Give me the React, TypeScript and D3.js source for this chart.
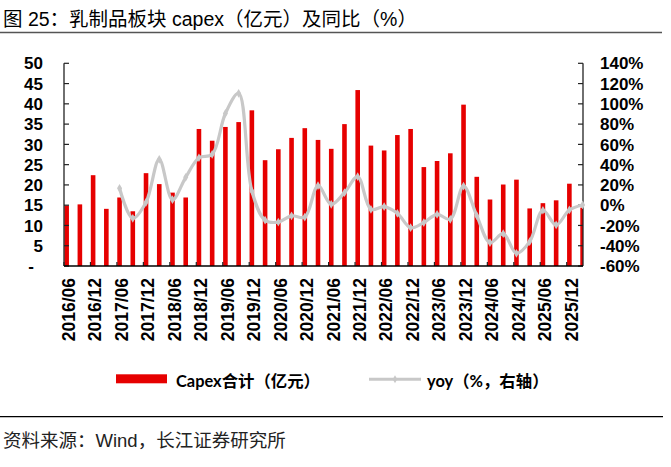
import React from "react";
import * as d3 from "d3";

const categories: string[] = [
  "2016/06","2016/09","2016/12","2017/03","2017/06","2017/09","2017/12","2018/03",
  "2018/06","2018/09","2018/12","2019/03","2019/06","2019/09","2019/12","2020/03",
  "2020/06","2020/09","2020/12","2021/03","2021/06","2021/09","2021/12","2022/03",
  "2022/06","2022/09","2022/12","2023/03","2023/06","2023/09","2023/12","2024/03",
  "2024/06","2024/09","2024/12","2025/03","2025/06","2025/09","2025/12","2026/03",
];

const capex: number[] = [
  14.9, 15.2, 22.4, 14.1, 16.9, 13.5, 22.9, 20.2, 18.1, 16.9,
  33.8, 30.9, 34.3, 35.5, 38.4, 26.1, 28.8, 31.6, 34.0, 31.1,
  28.9, 35.0, 43.4, 29.7, 28.5, 32.3, 33.8, 24.4, 25.9, 27.8,
  39.8, 22.0, 16.4, 20.1, 21.3, 14.2, 15.5, 16.2, 20.3, 14.4,
];

const yoy: (number | null)[] = [
  null, null, null, null, 16.7, -12.9, 2.8, 45.3, 5.4, 27.5,
  46.8, 50.2, 90.5, 110.4, 14.0, -14.8, -16.7, -10.5, -11.8, 19.2,
  0.9, 12.3, 28.1, -4.1, -1.4, -8.0, -22.2, -17.2, -9.0, -13.9,
  18.9, -10.3, -37.0, -28.1, -47.5, -36.0, -5.0, -19.5, -4.7, 0.2,
];

const leftTicks: number[] = [0, 5, 10, 15, 20, 25, 30, 35, 40, 45, 50];
const rightTicks: number[] = [-60, -40, -20, 0, 20, 40, 60, 80, 100, 120, 140];

const titleText = "图 25：乳制品板块 capex（亿元）及同比（%）";
const sourceText = "资料来源：Wind，长江证券研究所";
const legendBar = "Capex合计（亿元）";
const legendLine = "yoy（%，右轴）";

const RED = "#E60000";
const GRAY = "#C8C8C8";
const AXIS_FONT = "'Liberation Sans', Arial, 'Noto Sans CJK SC', sans-serif";
const LEGEND_FONT = "Lato, 'Noto Sans CJK SC', sans-serif";

export default function App() {
  const W = 671, H = 467;
  const left = 64, right = 583, top = 63.3, bottom = 266;

  const x = d3.scaleLinear().domain([-0.2, 39.03]).range([left, right]);
  const yL = d3.scaleLinear().domain([0, 50]).range([bottom, top]);
  const yR = d3.scaleLinear().domain([-60, 140]).range([bottom, top]);

  const barW = 4.6;

  const linePts = yoy
    .map((v, i) => (v === null ? null : ([x(i), yR(v)] as [number, number])))
    .filter((p): p is [number, number] => p !== null);
  const lineGen = d3.line<[number, number]>().curve(d3.curveCatmullRom.alpha(0.5));
  const pathD = lineGen(linePts) || "";
  const diamond = d3.symbol(d3.symbolDiamond, 22)() || "";

  const xTickIdx: number[] = d3.range(0, 20).map((k) => -0.2 + 2 * k);

  return (
    <svg
      width={W}
      height={H}
      style={{ position: "absolute", left: 0, top: 0, background: "#fff" }}
    >
      <rect x={0} y={0} width={W} height={H} fill="#fff" />
      {/* title */}
      <text x={3} y={26} fontFamily={AXIS_FONT} fontSize={19.5} fill="#000">
        {titleText}
      </text>
      <line x1={0} x2={662} y1={32.5} y2={32.5} stroke="#555" strokeWidth={1.4} />

      <defs>
        <clipPath id="plotClip">
          <rect x={left} y={0} width={right - left} height={bottom} />
        </clipPath>
      </defs>

      {/* bars */}
      <g clipPath="url(#plotClip)">
        {capex.map((v, i) => (
          <rect
            key={i}
            x={x(i) - barW / 2}
            y={yL(v)}
            width={barW}
            height={bottom - yL(v)}
            fill={RED}
          />
        ))}
      </g>

      {/* axes */}
      <line x1={left} x2={left} y1={top} y2={bottom} stroke="#222" strokeWidth={1.3} />
      <line x1={right} x2={right} y1={top} y2={bottom} stroke="#222" strokeWidth={1.3} />
      {leftTicks.map((t) => (
        <line key={"lt" + t} x1={left} x2={left + 5} y1={yL(t)} y2={yL(t)} stroke="#222" strokeWidth={1.2} />
      ))}
      {rightTicks.map((t) => (
        <line key={"rt" + t} x1={right - 5} x2={right} y1={yR(t)} y2={yR(t)} stroke="#222" strokeWidth={1.2} />
      ))}
      {xTickIdx.map((t, k) => (
        <line key={"xt" + k} x1={x(t)} x2={x(t)} y1={bottom} y2={bottom - 4} stroke="#222" strokeWidth={1.2} />
      ))}
      <line x1={left} x2={right} y1={bottom} y2={bottom} stroke="#000" strokeWidth={1.5} />

      {/* left labels */}
      {leftTicks.map((t) => (
        <text
          key={"ll" + t}
          x={t === 0 ? 31 : 43}
          y={yL(t)}
          dy="0.36em"
          textAnchor={t === 0 ? "middle" : "end"}
          fontFamily={AXIS_FONT}
          fontWeight="bold"
          fontSize={17}
          fill="#000"
        >
          {t === 0 ? "-" : String(t)}
        </text>
      ))}
      {/* right labels */}
      {rightTicks.map((t) => (
        <text
          key={"rl" + t}
          x={600}
          y={yR(t)}
          dy="0.36em"
          textAnchor="start"
          fontFamily={AXIS_FONT}
          fontWeight="bold"
          fontSize={17}
          fill="#000"
        >
          {t + "%"}
        </text>
      ))}
      {/* x labels */}
      {categories.map((c, i) =>
        i % 2 === 0 ? (
          <text
            key={"xl" + i}
            transform={`translate(${x(i) + 2},278) rotate(-90)`}
            dy="0.36em"
            textAnchor="end"
            fontFamily={AXIS_FONT}
            fontWeight="bold"
            fontSize={17.5}
            fill="#000"
          >
            {c}
          </text>
        ) : null
      )}

      {/* yoy line */}
      <path d={pathD} fill="none" stroke={GRAY} strokeWidth={3.2} strokeLinejoin="round" />
      {linePts.map((p, i) => (
        <path key={"m" + i} d={diamond} transform={`translate(${p[0]},${p[1]})`} fill={GRAY} />
      ))}

      {/* legend */}
      <rect x={116} y={374.3} width={51} height={9} fill={RED} />
      <text x={176} y={386.5} fontFamily={LEGEND_FONT} fontWeight="bold" fontSize={16.4} fill="#000">
        {legendBar}
      </text>
      <line x1={369} x2={421} y1={379.3} y2={379.3} stroke={GRAY} strokeWidth={3} />
      <path d={d3.symbol(d3.symbolDiamond, 18)() || ""} transform="translate(395,379.3)" fill={GRAY} />
      <text x={427} y={386.5} fontFamily={LEGEND_FONT} fontWeight="bold" fontSize={16.4} fill="#000">
        {legendLine}
      </text>

      {/* bottom rule & source */}
      <line x1={0} x2={663} y1={416.7} y2={416.7} stroke="#000" strokeWidth={1.3} />
      <text x={3} y={447} fontFamily={AXIS_FONT} fontSize={18.5} fill="#222">
        {sourceText}
      </text>
    </svg>
  );
}
